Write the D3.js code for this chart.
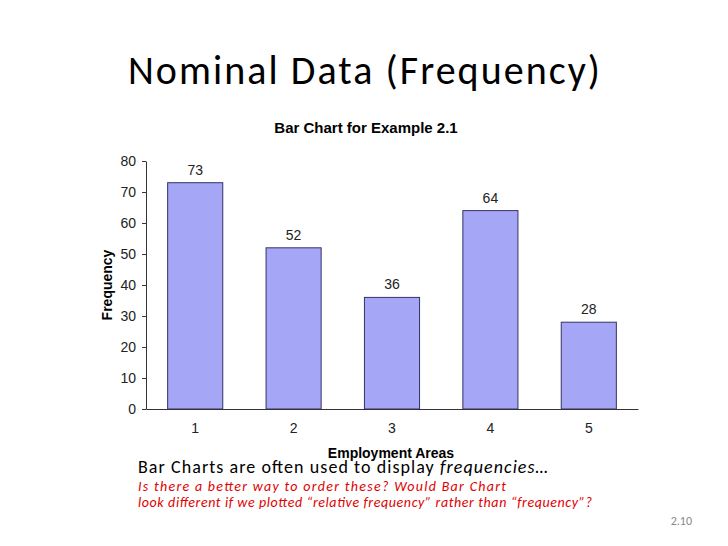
<!DOCTYPE html>
<html><head><meta charset="utf-8">
<script src="https://cdn.jsdelivr.net/npm/d3@7"></script>
<style>body{margin:0;background:#fff}</style>
</head><body>
<svg id="chart" width="728" height="546"></svg>
<script>
const categories = ['1', '2', '3', '4', '5'];
const frequencies = [73, 52, 36, 64, 28];
const yTicks = [0, 10, 20, 30, 40, 50, 60, 70, 80];

const svg = d3.select('#chart');
const margin = { top: 161, left: 146, right: 90, bottom: 137 };
const width = 728 - margin.left - margin.right;
const height = 546 - margin.top - margin.bottom;

const x = d3.scaleBand().domain(categories).range([0, width]).paddingInner(0.44).paddingOuter(0.22);
const y = d3.scaleLinear().domain([0, 80]).range([height, 0]);

svg.append('text').attr('x', 128).attr('y', 84)
    .style('font-family', 'Carlito, "Open Sans", sans-serif').style('font-size', '40px')
    .attr('textLength', 472)
    .text('Nominal Data (Frequency)');

svg.append('text').attr('x', 366).attr('y', 133).attr('text-anchor', 'middle')
    .style('font-family', 'Liberation Sans, Arial').style('font-weight', 'bold').style('font-size', '15px')
    .text('Bar Chart for Example 2.1');

const chart = svg.append('g').attr('transform', `translate(${margin.left},${margin.top})`);

chart.selectAll('.bar').data(frequencies).enter().append('rect')
    .attr('x', (d, i) => x(categories[i]))
    .attr('y', d => y(d))
    .attr('width', x.bandwidth())
    .attr('height', d => height - y(d))
    .attr('fill', '#a6a6f6').attr('stroke', '#333366').attr('stroke-width', 1);

chart.selectAll('.lbl').data(frequencies).enter().append('text')
    .attr('x', (d, i) => x(categories[i]) + x.bandwidth() / 2)
    .attr('y', d => y(d) - 8)
    .attr('text-anchor', 'middle')
    .style('font-family', 'Liberation Sans, Arial').style('font-size', '14px').attr('fill', '#222')
    .text(d => d);

const yAxis = chart.append('g').call(d3.axisLeft(y).tickValues(yTicks).tickSize(4).tickSizeOuter(0));
const xAxis = chart.append('g').attr('transform', `translate(0,${height})`)
    .call(d3.axisBottom(x).tickSize(0).tickSizeOuter(0).tickPadding(14));
[yAxis, xAxis].forEach(a => {
    a.selectAll('path,line').attr('stroke', '#333');
    a.selectAll('text').style('font-family', 'Liberation Sans, Arial').style('font-size', '14px').attr('fill', '#222');
});
yAxis.selectAll('text').attr('dx', '-3');

svg.append('text').attr('transform', 'rotate(-90)').attr('x', -285).attr('y', 112)
    .attr('text-anchor', 'middle')
    .style('font-family', 'Liberation Sans, Arial').style('font-weight', 'bold').style('font-size', '14px')
    .text('Frequency');

svg.append('text').attr('x', 391).attr('y', 458).attr('text-anchor', 'middle')
    .style('font-family', 'Liberation Sans, Arial').style('font-weight', 'bold').style('font-size', '14px')
    .text('Employment Areas');

const note = svg.append('text').attr('x', 138).attr('y', 473)
    .style('font-family', 'Carlito, "Open Sans", sans-serif').style('font-size', '18px')
    .attr('textLength', 410);
note.append('tspan').text('Bar Charts are often used to display ');
note.append('tspan').style('font-style', 'italic').text('frequencies…');

[['Is there a better way to order these? Would Bar Chart', 368],
 ['look different if we plotted “relative frequency” rather than “frequency”?', 454]].forEach(([t, len], i) => {
    svg.append('text').attr('x', 138).attr('y', 491 + i * 16)
        .style('font-family', 'Carlito, "Open Sans", sans-serif').style('font-size', '14px')
        .attr('textLength', len)
        .style('font-style', 'italic').attr('fill', '#e00000').text(t);
});

svg.append('text').attr('x', 692).attr('y', 525).attr('text-anchor', 'end')
    .style('font-family', 'Carlito, "Open Sans", sans-serif').style('font-size', '12px').attr('fill', '#888')
    .text('2.10');
</script>
</body></html>
